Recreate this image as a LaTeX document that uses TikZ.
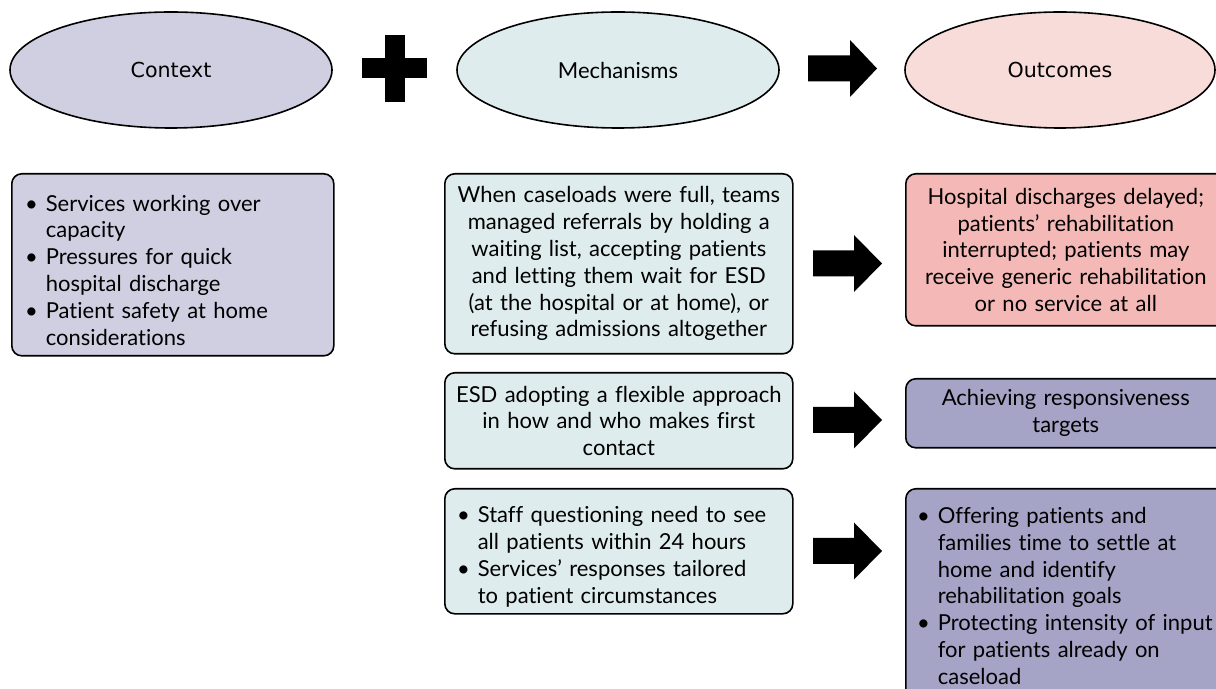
\documentclass[tikz,border=0pt]{standalone}
\usepackage{fontspec}
\setmainfont{Lato}[Ligatures=NoCommon]
\newfontfamily\ovalfont{DejaVu Sans}
\usetikzlibrary{shapes.geometric}

\definecolor{ctxfill}{HTML}{D0CFE1}
\definecolor{mechfill}{HTML}{DFECED}
\definecolor{outfill}{HTML}{F8DCDA}
\definecolor{badfill}{HTML}{F4B9B6}
\definecolor{goodfill}{HTML}{A5A4C6}

\tikzset{
  oval/.style={ellipse, draw, line width=0.8pt, minimum width=161pt, minimum height=58pt, inner sep=0pt},
  card/.style={draw, rounded corners=5pt, line width=0.8pt, anchor=north west,
    font=\fontsize{11}{13.4}\selectfont, inner ysep=2pt},
}

\newenvironment{bulletlist}{\begin{list}{\llap{\textbullet}}{%
  \setlength\leftmargin{7.5pt}\setlength\labelsep{4pt}%
  \setlength\labelwidth{0pt}\setlength\topsep{0pt}%
  \setlength\itemsep{0pt}\setlength\parsep{0pt}\setlength\partopsep{0pt}}}%
  {\end{list}}

% block arrow: tail x, centre y, head start
\newcommand{\blockarrow}[3]{%
  \fill (#1,#2-13) -- (#3,#2-13) -- (#3,#2-28.5) -- (#1+69,#2)
    -- (#3,#2+28.5) -- (#3,#2+13) -- (#1,#2+13) -- cycle;}

\begin{document}
\begin{tikzpicture}[x=0.5pt,y=-0.5pt]
  \useasboundingbox (0,0) rectangle (1216,689);
  \clip (0,0) rectangle (1216,689);

  % headings
  \node[oval, fill=ctxfill, font=\ovalfont\fontsize{10.3}{12}\selectfont] (context) at (171,70) {Context};
  \node[oval, fill=mechfill, font=\fontsize{11}{13}\selectfont] (mech) at (618,70) {Mechanisms};
  \node[oval, fill=outfill, minimum width=155pt, font=\ovalfont\fontsize{10.3}{12}\selectfont] (outcome) at (1060,70) {Outcomes};
  \fill (362,58.5) rectangle (427,78.5);
  \fill (384.5,35) rectangle (404.5,102);
  \blockarrow{808}{68.5}{850}

  % context
  \node[card, fill=ctxfill, minimum width=160.5pt, minimum height=91pt, text width=142pt, inner xsep=9.5pt] (ctx1) at (11,173) {%
    \raggedright
    \begin{bulletlist}
    \item Services working over\\capacity
    \item Pressures for quick\\hospital discharge
    \item Patient safety at home\\considerations
    \end{bulletlist}};

  % mechanisms
  \node[card, fill=mechfill, minimum width=174pt, minimum height=90pt, text width=170pt, align=center, inner xsep=2pt] (mech1) at (444,173) {%
    When caseloads were full, teams\\managed referrals by holding a\\waiting list, accepting patients\\and letting them wait for ESD\\(at the hospital or at home), or\\refusing admissions altogether};
  \node[card, fill=mechfill, minimum width=174pt, minimum height=48pt, text width=170pt, align=center, inner xsep=2pt] (mech2) at (444,372) {%
    ESD adopting a flexible approach\\in how and who makes first\\contact};
  \node[card, fill=mechfill, minimum width=174pt, minimum height=62.5pt, text width=156pt, inner xsep=9pt] (mech3) at (444,488) {%
    \raggedright
    \begin{bulletlist}
    \item Staff questioning need to see\\all patients within 24 hours
    \item Services' responses tailored\\to patient circumstances
    \end{bulletlist}};

  % outcomes
  \node[card, fill=badfill, minimum width=160pt, minimum height=76pt, text width=156pt, align=center, inner xsep=2pt] (out1) at (905,173) {%
    Hospital discharges delayed;\\patients' rehabilitation\\interrupted; patients may\\receive generic rehabilitation\\or no service at all};
  \node[card, fill=goodfill, minimum width=160pt, minimum height=34.5pt, text width=156pt, align=center, inner xsep=2pt] (out2) at (905,378) {%
    Achieving responsiveness\\targets};
  \node[card, fill=goodfill, minimum width=160pt, text width=148pt, inner xsep=8.5pt, inner ysep=4pt] (out3) at (905,488) {%
    \raggedright
    \begin{bulletlist}
    \item Offering patients and\\families time to settle at\\home and identify\\rehabilitation goals
    \item Protecting intensity of input\\for patients already on\\caseload
    \end{bulletlist}
    \rule{0pt}{20pt}};

  % arrows between rows
  \foreach \y in {263.5,420,551}
    {\blockarrow{813}{\y}{854}}
\end{tikzpicture}
\end{document}
